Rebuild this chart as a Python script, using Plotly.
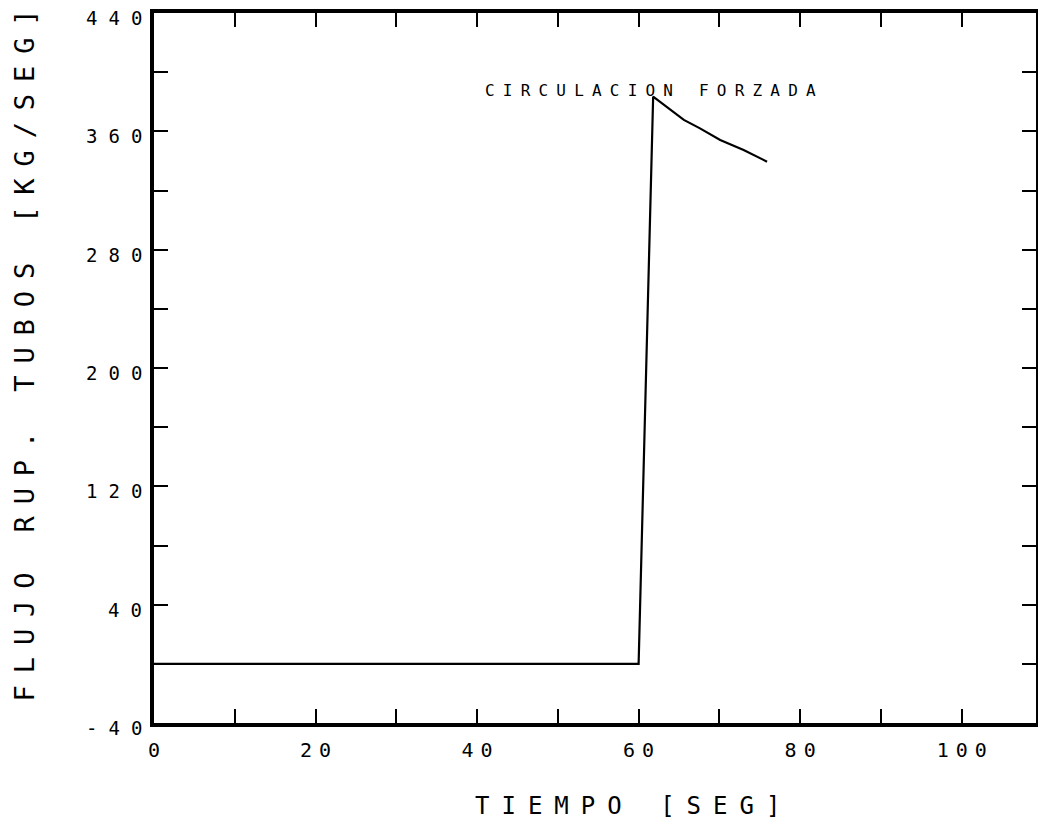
import plotly.graph_objects as go

# data
tiempo = [0, 60.0, 61.8, 65.6, 67.6, 70.1, 73.0, 75.9]
flujo = [0, 0, 383.4, 367.7, 362.0, 354.1, 347.4, 339.5]

x_ticks = list(range(0, 111, 10))
x_labels = [str(v) if v % 20 == 0 and v <= 100 else "" for v in x_ticks]
y_ticks = list(range(-40, 441, 40))
y_labels = [str(v) if (v + 40) % 80 == 0 else "" for v in y_ticks]


def sp(text, px):
    # letter spacing between characters, without trailing space after the last one
    if len(text) < 2:
        return text
    return f'<span style="letter-spacing:{px}px">{text[:-1]}</span>{text[-1]}'


FONT = "DejaVu Sans Mono"

fig = go.Figure()
fig.add_trace(go.Scatter(x=tiempo, y=flujo, mode="lines",
                         line=dict(color="black", width=2.2), showlegend=False))

fig.add_annotation(x=61.42, y=387.9, xref="x", yref="y",
                   text=sp("CIRCULACION FORZADA", 8.2),
                   showarrow=False, font=dict(family=FONT, size=16, color="black"))

fig.add_annotation(x=0.5366, y=-0.1387, xref="paper", yref="paper",
                   text=sp("TIEMPO [SEG]", 12), borderpad=0,
                   showarrow=False, font=dict(family=FONT, size=24, color="black"))
fig.add_annotation(x=-0.167, y=0.518, xref="paper", yref="paper", textangle=-90,
                   text=sp("FLUJO RUP. TUBOS [KG/SEG]", 11.9),
                   showarrow=False, font=dict(family=FONT, size=27, color="black"))

# y tick labels, placed on the y scale (sitting slightly below their ticks as in the plot)
for v, t in zip(y_ticks, y_labels):
    if t:
        fig.add_annotation(x=0, y=v, xref="paper", yref="y", xanchor="right",
                           xshift=-10, yshift=-5, text=sp(t, 11), showarrow=False,
                           font=dict(family=FONT, size=19, color="black"))

axis_common = dict(showgrid=False, zeroline=False, showline=True, linecolor="black",
                   linewidth=3.5, mirror="ticks", ticks="inside", ticklen=14,
                   tickwidth=2, tickcolor="black", ticklabeloverflow="allow",
                   automargin=False)

x_ticktext = [sp(t, 7) if t else "" for t in x_labels]

fig.update_xaxes(range=[0, 109.2], tickmode="array", tickvals=x_ticks, ticktext=x_ticktext,
                 ticklabelstandoff=6, tickfont=dict(family=FONT, size=20, color="black"),
                 **axis_common)
fig.update_yaxes(range=[-40, 440], tickmode="array", tickvals=y_ticks,
                 showticklabels=False, **axis_common)

fig.update_layout(width=1030, height=814, plot_bgcolor="white", paper_bgcolor="white",
                  margin=dict(l=146, r=2, t=5, b=99), showlegend=False)

fig.write_html("out.html")
